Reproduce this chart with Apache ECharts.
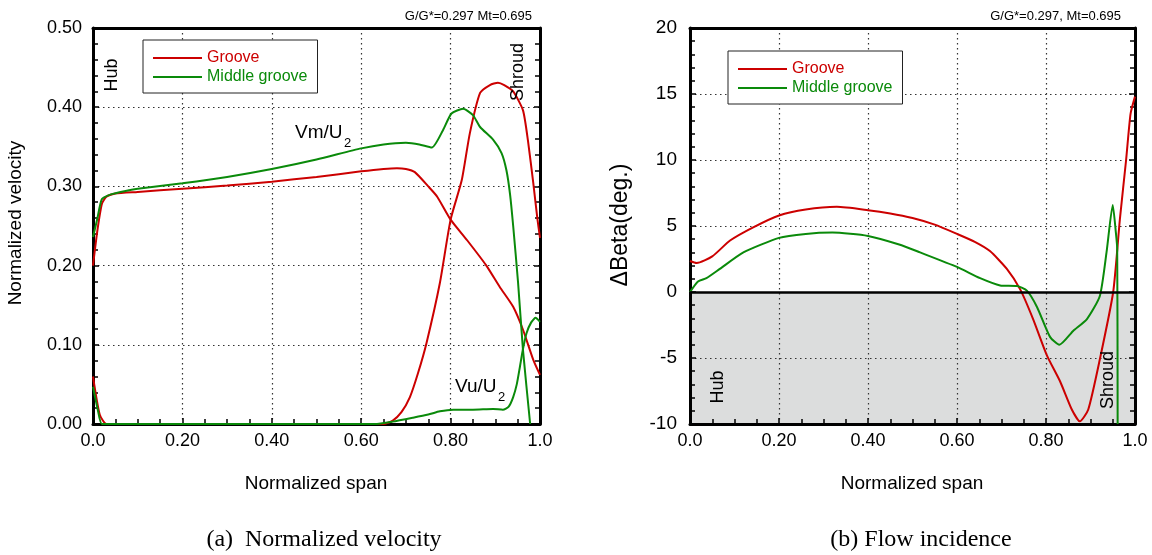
<!DOCTYPE html>
<html>
<head>
<meta charset="utf-8">
<script src="https://cdn.jsdelivr.net/npm/echarts/dist/echarts.min.js"></script>
<style>
  html, body { margin: 0; padding: 0; background: #fff; }
  #d { width: 1152px; height: 555px; }
</style>
</head>
<body>
<div id="d"></div>
<script>
// (a) normalized velocity
var grooveVmX = [0, 0.01, 0.02, 0.03, 0.05, 0.1, 0.2, 0.3, 0.4, 0.5, 0.6, 0.65, 0.68, 0.7, 0.72, 0.75, 0.77, 0.8, 0.837, 0.88, 0.91, 0.94, 0.962, 0.985, 1.0];
var grooveVmY = [0.20, 0.245, 0.278, 0.287, 0.291, 0.293, 0.297, 0.301, 0.306, 0.312, 0.319, 0.322, 0.323, 0.322, 0.318, 0.300, 0.287, 0.258, 0.232, 0.200, 0.173, 0.148, 0.119, 0.081, 0.062];

var grooveVuX = [0, 0.015, 0.03, 0.1, 0.3, 0.5, 0.6, 0.65, 0.67, 0.69, 0.709, 0.727, 0.746, 0.776, 0.8, 0.825, 0.843, 0.866, 0.888, 0.906, 0.92, 0.94, 0.962, 0.973, 0.985, 0.994, 1.0];
var grooveVuY = [0.06, 0.012, 0.0, 0, 0, 0, 0, 0.0, 0.004, 0.015, 0.034, 0.064, 0.102, 0.178, 0.258, 0.308, 0.367, 0.418, 0.428, 0.431, 0.428, 0.42, 0.396, 0.358, 0.304, 0.26, 0.235];

var middleVmX = [0, 0.01, 0.02, 0.04, 0.07, 0.1, 0.2, 0.3, 0.4, 0.5, 0.6, 0.65, 0.7, 0.73, 0.758, 0.783, 0.802, 0.828, 0.85, 0.866, 0.895, 0.914, 0.925, 0.933, 0.94, 0.951, 0.962, 0.978];
var middleVmY = [0.236, 0.26, 0.284, 0.29, 0.294, 0.297, 0.304, 0.312, 0.322, 0.334, 0.348, 0.353, 0.355, 0.353, 0.349, 0.371, 0.392, 0.398, 0.39, 0.375, 0.359, 0.342, 0.32, 0.29, 0.25, 0.178, 0.093, 0.0];

var middleVuX = [0, 0.01, 0.02, 0.05, 0.3, 0.6, 0.63, 0.67, 0.716, 0.75, 0.776, 0.806, 0.85, 0.895, 0.917, 0.93, 0.94, 0.948, 0.955, 0.962, 0.97, 0.98, 0.99, 1.0];
var middleVuY = [0.047, 0.02, 0.0, 0.0, 0, 0, 0.0, 0.003, 0.008, 0.012, 0.016, 0.018, 0.018, 0.019, 0.018, 0.022, 0.034, 0.05, 0.072, 0.095, 0.115, 0.128, 0.134, 0.129];

// (b) flow incidence
var grooveBetaX = [0, 0.015, 0.05, 0.09, 0.142, 0.2, 0.26, 0.33, 0.4, 0.45, 0.5, 0.55, 0.6, 0.64, 0.674, 0.712, 0.742, 0.771, 0.802, 0.832, 0.858, 0.876, 0.895, 0.921, 0.951, 0.966, 0.98, 0.99, 1.0];
var grooveBetaY = [2.35, 2.2, 2.7, 3.9, 4.9, 5.8, 6.25, 6.45, 6.2, 5.95, 5.6, 5.1, 4.4, 3.8, 3.1, 1.75, 0.2, -2.05, -4.8, -6.8, -8.9, -9.8, -8.9, -5.1, 0, 5.5, 10, 13.5, 14.8];

var middleBetaX = [0, 0.018, 0.037, 0.067, 0.12, 0.2, 0.26, 0.32, 0.4, 0.47, 0.517, 0.6, 0.652, 0.697, 0.735, 0.757, 0.78, 0.809, 0.83, 0.861, 0.892, 0.921, 0.936, 0.95, 0.957, 0.96, 0.961];
var middleBetaY = [0, 0.8, 1.05, 1.75, 3.0, 4.1, 4.4, 4.5, 4.25, 3.6, 3.0, 1.9, 1.05, 0.5, 0.45, 0.1, -1.15, -3.4, -4.0, -2.95, -2.05, -0.3, 3.0, 6.6, 4.5, 3.3, -10];

var legendNames = ['Groove', 'Middle groove'];
var red = '#cc0000';
var green = '#0a8a0a';
var ff = 'Liberation Sans, Arial, sans-serif';

function zip(xs, ys) {
  var out = [];
  for (var i = 0; i < xs.length; i++) out.push([xs[i], ys[i]]);
  return out;
}

function spanLabel(v) {
  var s = v.toFixed(2);
  if (s === '0.00') return '0.0';
  if (s === '1.00') return '1.0';
  return s;
}

function frameAxis(grid, pos, extra) {
  var a = {
    gridIndex: grid, type: 'value', position: pos, z: 3,
    axisLine: { show: true, onZero: false, lineStyle: { color: '#000', width: 3 } },
    axisTick: { show: false },
    axisLabel: { show: false },
    splitLine: { show: false }
  };
  for (var k in extra) a[k] = extra[k];
  return a;
}

function tickStyle(split) {
  return {
    axisTick: { show: true, inside: true, length: 6, lineStyle: { color: '#000', width: 1.5 } },
    minorTick: { show: true, splitNumber: split, length: 5, lineStyle: { color: '#000', width: 1.5 } }
  };
}

var dotted = { show: true, lineStyle: { color: '#333', width: 1.2, type: [1.5, 3.5] } };

var xMain0 = frameAxis(0, 'bottom', Object.assign({
  min: 0, max: 1, interval: 0.2,
  axisLabel: { show: true, formatter: spanLabel, fontSize: 18, color: '#000', fontFamily: ff, margin: 8 },
  splitLine: dotted
}, tickStyle(4)));
var xMain1 = frameAxis(1, 'bottom', Object.assign({
  min: 0, max: 1, interval: 0.2,
  axisLabel: { show: true, formatter: spanLabel, fontSize: 18, color: '#000', fontFamily: ff, margin: 8 },
  splitLine: dotted
}, tickStyle(4)));

var yMain0 = frameAxis(0, 'left', Object.assign({
  min: 0, max: 0.5, interval: 0.1,
  axisLabel: { show: true, formatter: function (v) { return v.toFixed(2); }, fontSize: 18, color: '#000', fontFamily: ff, margin: 11 },
  splitLine: dotted
}, tickStyle(5)));
var yMain1 = frameAxis(1, 'left', Object.assign({
  min: -10, max: 20, interval: 5,
  axisLabel: { show: true, fontSize: 19, color: '#000', fontFamily: ff, margin: 13 },
  splitLine: dotted
}, tickStyle(5)));

var myChart = echarts.init(document.getElementById('d'));

function lineSeries(name, color, xi, yi, data) {
  return {
    name: name, type: 'line', xAxisIndex: xi, yAxisIndex: yi,
    data: data, symbol: 'none', smooth: 0.2, clip: true,
    lineStyle: { color: color, width: 2 }, itemStyle: { color: color }
  };
}

function legendBox(left, top) {
  return {
    left: left, top: top, orient: 'vertical',
    backgroundColor: '#fff', borderColor: '#222', borderWidth: 1,
    padding: [10, 10, 8, 10], itemGap: 3, itemWidth: 49, itemHeight: 2,
    icon: 'rect',
    textStyle: { fontSize: 16, fontFamily: ff, lineHeight: 16 },
    data: [
      { name: legendNames[0], textStyle: { color: red } },
      { name: legendNames[1], textStyle: { color: green } }
    ],
    selectedMode: false
  };
}

function txt(x, y, s, size, opts) {
  var o = {
    type: 'text', x: x, y: y, z: 10,
    style: { text: s, fontSize: size, fontFamily: ff, fill: '#000', textAlign: 'center', textVerticalAlign: 'middle' }
  };
  if (opts) {
    if (opts.rot) o.rotation = opts.rot;
    if (opts.align) o.style.textAlign = opts.align;
    if (opts.font) o.style.fontFamily = opts.font;
  }
  return o;
}

var up = Math.PI / 2;
var serif = 'Liberation Serif, Times New Roman, serif';

var grooveBetaSeries = lineSeries(legendNames[0], red, 2, 2, zip(grooveBetaX, grooveBetaY));
grooveBetaSeries.markArea = {
  silent: true,
  itemStyle: { color: '#dcdddd' },
  data: [[{ xAxis: 0, yAxis: -10 }, { xAxis: 1, yAxis: 0 }]]
};
grooveBetaSeries.markLine = {
  silent: true, symbol: ['none', 'none'], label: { show: false },
  lineStyle: { color: '#000', width: 2.5, type: 'solid' },
  data: [{ yAxis: 0 }]
};

option = {
  animation: false,
  backgroundColor: '#fff',
  grid: [
    { left: 93, top: 28, width: 447, height: 396 },
    { left: 690, top: 28, width: 445, height: 396 }
  ],
  xAxis: [
    xMain0,
    frameAxis(0, 'top', { min: 0, max: 1 }),
    xMain1,
    frameAxis(1, 'top', { min: 0, max: 1 })
  ],
  yAxis: [
    yMain0,
    frameAxis(0, 'right', Object.assign({ min: 0, max: 0.5, interval: 0.1 }, tickStyle(5))),
    yMain1,
    frameAxis(1, 'right', Object.assign({ min: -10, max: 20, interval: 5 }, tickStyle(5)))
  ],
  legend: [legendBox(143, 40), legendBox(728, 51)],
  series: [
    lineSeries(legendNames[0], red, 0, 0, zip(grooveVmX, grooveVmY)),
    lineSeries(legendNames[0], red, 0, 0, zip(grooveVuX, grooveVuY)),
    lineSeries(legendNames[1], green, 0, 0, zip(middleVmX, middleVmY)),
    lineSeries(legendNames[1], green, 0, 0, zip(middleVuX, middleVuY)),
    grooveBetaSeries,
    lineSeries(legendNames[1], green, 2, 2, zip(middleBetaX, middleBetaY))
  ],
  graphic: [
    txt(532, 16, 'G/G*=0.297 Mt=0.695', 13, { align: 'right' }),
    txt(1121, 16, 'G/G*=0.297, Mt=0.695', 13, { align: 'right' }),
    txt(16, 223, 'Normalized velocity', 19, { rot: up }),
    txt(621, 225, '\u0394Beta(deg.)', 23, { rot: up }),
    txt(316, 484, 'Normalized span', 19),
    txt(912, 484, 'Normalized span', 19),
    txt(324, 540, '(a)  Normalized velocity', 24, { font: serif }),
    txt(921, 540, '(b) Flow incidence', 24, { font: serif }),
    txt(112, 75, 'Hub', 18, { rot: up }),
    txt(518, 72, 'Shroud', 18, { rot: up }),
    txt(718, 387, 'Hub', 18, { rot: up }),
    txt(1108, 380, 'Shroud', 18, { rot: up }),
    txt(295, 133, 'Vm/U', 19, { align: 'left' }),
    txt(344, 143, '2', 13, { align: 'left' }),
    txt(455, 387, 'Vu/U', 19, { align: 'left' }),
    txt(498, 397, '2', 13, { align: 'left' })
  ]
};

option && myChart.setOption(option);
</script>
</body>
</html>
